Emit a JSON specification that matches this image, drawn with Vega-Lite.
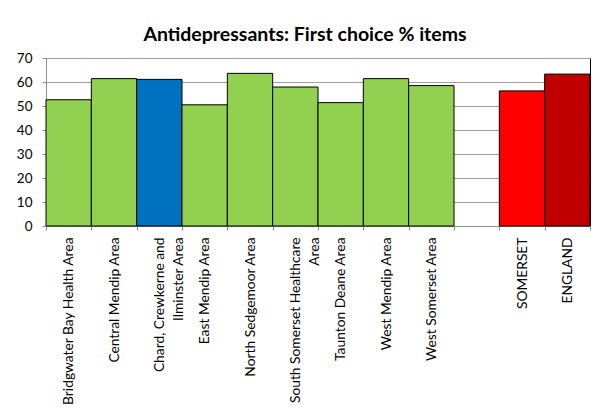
{
  "$schema": "https://vega.github.io/schema/vega-lite/v6.json",
  "width": 544,
  "height": 168,
  "autosize": {"type": "none"},
  "padding": {"left": 46, "top": 58, "right": 14, "bottom": 186},
  "background": "white",
  "title": {
    "text": "Antidepressants: First choice % items",
    "font": "Lato",
    "fontSize": 19.5,
    "fontWeight": "bold",
    "color": "#000000",
    "anchor": "middle",
    "dx": -13,
    "offset": 6
  },
  "data": {
    "values": [
      {"area": "Bridgwater Bay Health Area", "pct": 52.6, "colour": "#92D050"},
      {"area": "Central Mendip Area", "pct": 61.4, "colour": "#92D050"},
      {"area": "Chard, Crewkerne and Ilminster Area", "pct": 61.1, "colour": "#0070C0"},
      {"area": "East Mendip Area", "pct": 50.5, "colour": "#92D050"},
      {"area": "North Sedgemoor Area", "pct": 63.6, "colour": "#92D050"},
      {"area": "South Somerset Healthcare Area", "pct": 57.9, "colour": "#92D050"},
      {"area": "Taunton Deane Area", "pct": 51.4, "colour": "#92D050"},
      {"area": "West Mendip Area", "pct": 61.4, "colour": "#92D050"},
      {"area": "West Somerset Area", "pct": 58.5, "colour": "#92D050"},
      {"area": "SOMERSET", "pct": 56.3, "colour": "#FF0000"},
      {"area": "ENGLAND", "pct": 63.3, "colour": "#C00000"}
    ]
  },
  "mark": {"type": "bar", "stroke": "#000000", "strokeWidth": 1},
  "encoding": {
    "x": {
      "field": "area",
      "type": "nominal",
      "sort": null,
      "scale": {
        "domain": ["Bridgwater Bay Health Area", "Central Mendip Area", "Chard, Crewkerne and Ilminster Area", "East Mendip Area", "North Sedgemoor Area", "South Somerset Healthcare Area", "Taunton Deane Area", "West Mendip Area", "West Somerset Area", "gap", "SOMERSET", "ENGLAND"],
        "paddingInner": 0,
        "paddingOuter": 0
      },
      "axis": {
        "title": null,
        "labelAngle": 270,
        "labelAlign": "right",
        "labelBaseline": "middle",
        "labelFont": "Lato",
        "labelFontSize": 13.8,
        "labelColor": "#000000",
        "labelLineHeight": 19,
        "labelPadding": 7,
        "labelLimit": 200,
        "tickBand": "extent",
        "tickSize": 4,
        "tickColor": "#8c8c8c",
        "domainColor": "#8c8c8c",
        "labelExpr": "datum.value == 'gap' ? '' : datum.value == 'Chard, Crewkerne and Ilminster Area' ? ['Chard, Crewkerne and', 'Ilminster Area'] : datum.value == 'South Somerset Healthcare Area' ? ['South Somerset Healthcare', 'Area'] : datum.value"
      }
    },
    "y": {
      "field": "pct",
      "type": "quantitative",
      "scale": {"domain": [0, 70], "nice": false},
      "axis": {
        "title": null,
        "values": [0, 10, 20, 30, 40, 50, 60, 70],
        "labelFont": "Lato",
        "labelFontSize": 13.5,
        "labelColor": "#000000",
        "labelPadding": 10,
        "tickSize": 4,
        "tickColor": "#8c8c8c",
        "domainColor": "#8c8c8c",
        "gridColor": "#a0a0a0",
        "gridWidth": 1
      }
    },
    "fill": {"field": "colour", "type": "nominal", "scale": null, "legend": null}
  },
  "config": {
    "view": {"stroke": "#000000", "strokeWidth": 1},
    "axis": {"gridOpacity": 1}
  }
}
